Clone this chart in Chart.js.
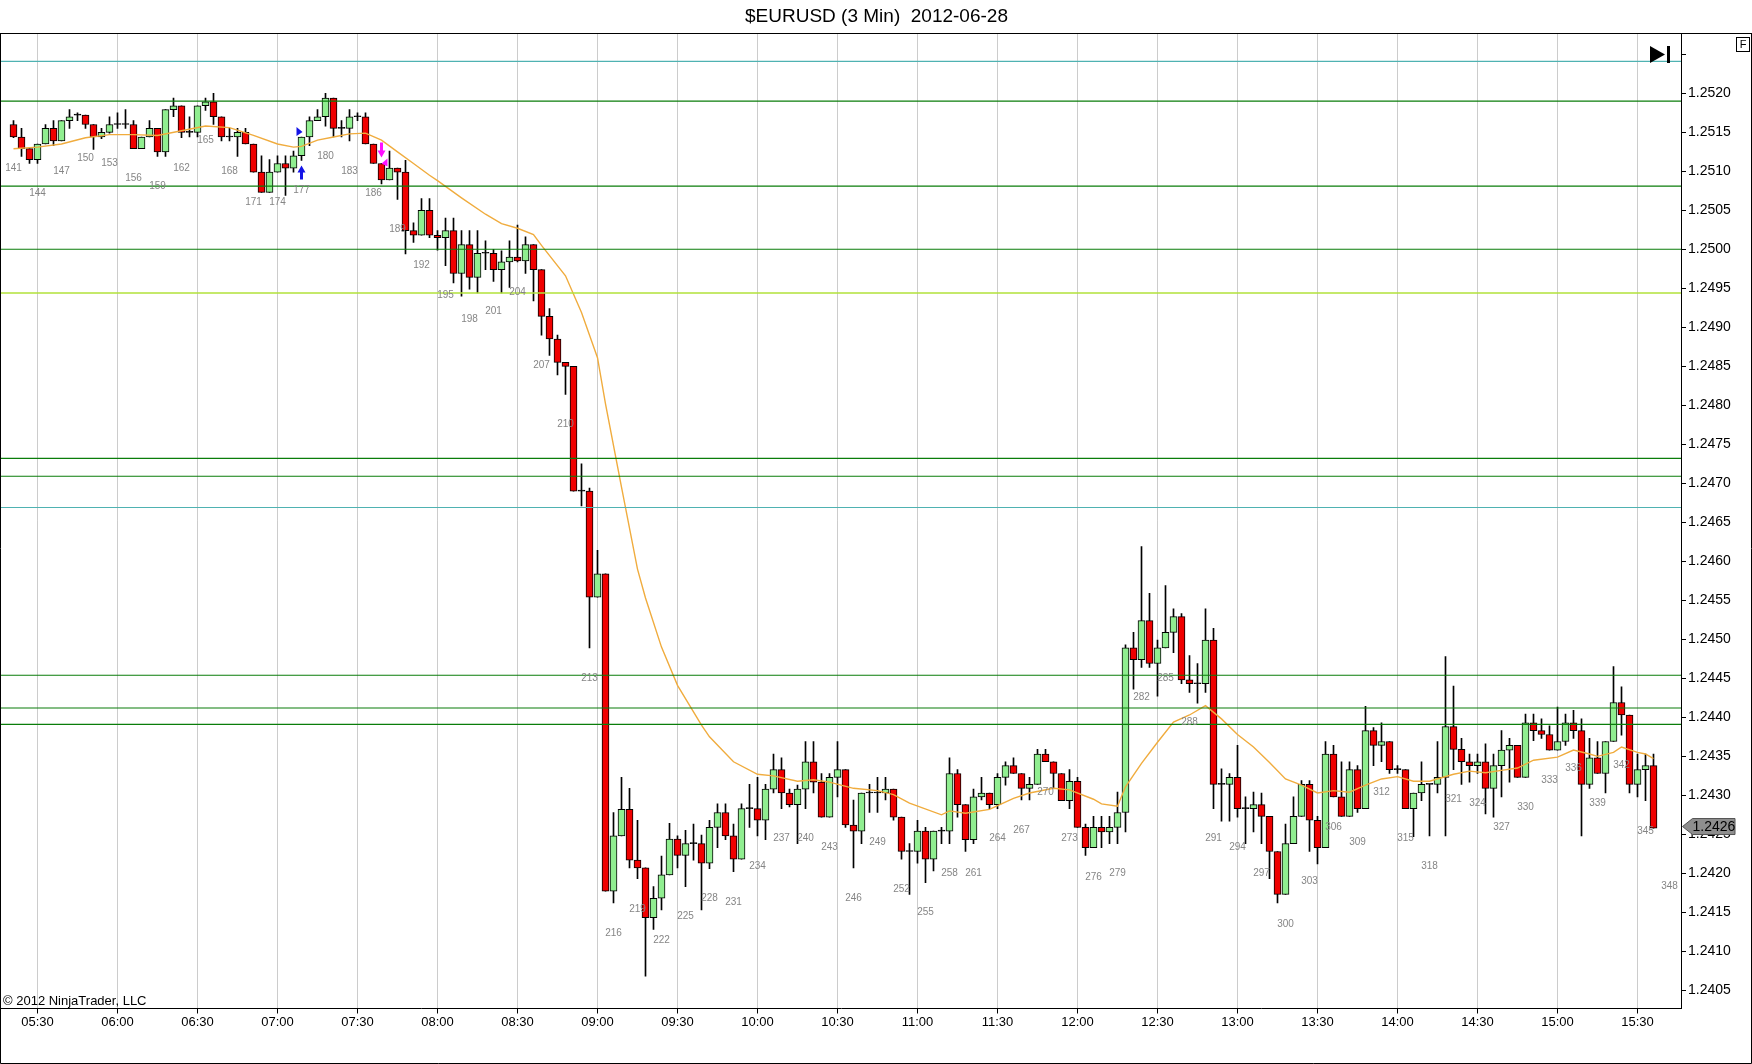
<!DOCTYPE html>
<html><head><meta charset="utf-8">
<script src="https://cdn.jsdelivr.net/npm/chart.js@4.4.0/dist/chart.umd.min.js"></script>
<style>html,body{margin:0;padding:0;background:#fff;}canvas{display:block}</style>
</head><body>
<canvas id="c" width="1752" height="1064"></canvas>
<script>
const FONT = "Arial, 'Liberation Sans', sans-serif";
const firstBar = 141;
const opens = [
1.25160,1.25144,1.25129,1.25115,1.25135,1.25155,1.25139,1.25165,1.25172,1.25172,
1.25160,1.25144,1.25150,1.25160,1.25160,1.25160,1.25129,1.25144,1.25155,1.25125,
1.25179,1.25184,1.25150,1.25150,1.25184,1.25189,1.25170,1.25144,1.25144,1.25150,
1.25135,1.25099,1.25073,1.25099,1.25110,1.25104,1.25120,1.25144,1.25165,1.25170,
1.25194,1.25155,1.25155,1.25170,1.25170,1.25135,1.25110,1.25089,1.25104,1.25099,
1.25024,1.25018,1.25050,1.25018,1.25015,1.25024,1.24969,1.25006,1.24964,1.24995,
1.24995,1.24974,1.24984,1.24990,1.24985,1.25006,1.24974,1.24914,1.24885,1.24855,
1.24850,1.24690,1.24690,1.24554,1.24584,1.24177,1.24248,1.24282,1.24217,1.24207,
1.24143,1.24168,1.24198,1.24244,1.24223,1.24238,1.24238,1.24213,1.24259,1.24278,
1.24248,1.24218,1.24283,1.24283,1.24268,1.24308,1.24333,1.24303,1.24288,1.24308,
1.24343,1.24317,1.24272,1.24323,1.24333,1.24262,1.24254,1.24303,1.24303,1.24303,
1.24308,1.24272,1.24228,1.24228,1.24254,1.24218,1.24254,1.24254,1.24328,1.24288,
1.24243,1.24298,1.24303,1.24288,1.24323,1.24338,1.24328,1.24309,1.24314,1.24353,
1.24343,1.24328,1.24293,1.24318,1.24259,1.24233,1.24259,1.24253,1.24259,1.24278,
1.24489,1.24474,1.24524,1.24469,1.24489,1.24509,1.24529,1.24448,1.24443,1.24443,
1.24499,1.24314,1.24314,1.24323,1.24283,1.24283,1.24288,1.24273,1.24228,1.24173,
1.24238,1.24273,1.24314,1.24268,1.24233,1.24353,1.24298,1.24273,1.24333,1.24283,
1.24383,1.24364,1.24369,1.24333,1.24333,1.24283,1.24303,1.24314,1.24314,1.24323,
1.24388,1.24359,1.24343,1.24338,1.24343,1.24309,1.24338,1.24358,1.24364,1.24323,
1.24393,1.24383,1.24378,1.24358,1.24369,1.24393,1.24383,1.24314,1.24348,1.24328,
1.24369,1.24419,1.24403,1.24314,1.24333,1.24338];
const highs = [
1.25165,1.25155,1.25129,1.25135,1.25160,1.25165,1.25165,1.25179,1.25175,1.25172,
1.25160,1.25155,1.25170,1.25175,1.25179,1.25165,1.25144,1.25165,1.25155,1.25179,
1.25194,1.25184,1.25170,1.25184,1.25194,1.25200,1.25170,1.25155,1.25155,1.25155,
1.25135,1.25120,1.25115,1.25120,1.25120,1.25126,1.25144,1.25170,1.25179,1.25200,
1.25194,1.25165,1.25179,1.25175,1.25175,1.25135,1.25110,1.25126,1.25104,1.25114,
1.25034,1.25065,1.25065,1.25024,1.25040,1.25040,1.25024,1.25024,1.25024,1.25011,
1.25000,1.24998,1.25011,1.25031,1.25016,1.25006,1.24974,1.24924,1.24890,1.24855,
1.24850,1.24725,1.24694,1.24614,1.24584,1.24278,1.24323,1.24309,1.24268,1.24207,
1.24183,1.24222,1.24264,1.24248,1.24255,1.24263,1.24249,1.24268,1.24289,1.24289,
1.24263,1.24289,1.24314,1.24323,1.24314,1.24353,1.24348,1.24308,1.24313,1.24369,
1.24369,1.24328,1.24328,1.24369,1.24333,1.24294,1.24303,1.24314,1.24323,1.24323,
1.24308,1.24272,1.24238,1.24268,1.24259,1.24254,1.24259,1.24348,1.24333,1.24288,
1.24308,1.24323,1.24303,1.24328,1.24343,1.24348,1.24328,1.24323,1.24359,1.24359,
1.24343,1.24328,1.24333,1.24323,1.24263,1.24273,1.24273,1.24273,1.24304,1.24493,
1.24509,1.24619,1.24559,1.24499,1.24569,1.24539,1.24533,1.24479,1.24469,1.24539,
1.24514,1.24334,1.24328,1.24364,1.24298,1.24304,1.24303,1.24273,1.24228,1.24263,
1.24298,1.24319,1.24319,1.24273,1.24369,1.24364,1.24343,1.24343,1.24338,1.24414,
1.24387,1.24393,1.24369,1.24338,1.24333,1.24303,1.24343,1.24314,1.24369,1.24478,
1.24440,1.24373,1.24353,1.24353,1.24366,1.24353,1.24383,1.24373,1.24364,1.24404,
1.24404,1.24398,1.24389,1.24413,1.24404,1.24409,1.24398,1.24373,1.24369,1.24369,
1.24465,1.24439,1.24403,1.24353,1.24353,1.24353];
const lows = [
1.25143,1.25119,1.25110,1.25110,1.25135,1.25133,1.25139,1.25155,1.25165,1.25155,
1.25128,1.25142,1.25149,1.25155,1.25155,1.25129,1.25129,1.25144,1.25119,1.25119,
1.25170,1.25143,1.25144,1.25144,1.25178,1.25160,1.25139,1.25139,1.25119,1.25135,
1.25099,1.25073,1.25073,1.25099,1.25069,1.25099,1.25114,1.25133,1.25165,1.25158,
1.25144,1.25144,1.25139,1.25165,1.25135,1.25110,1.25084,1.25089,1.25064,1.24994,
1.25009,1.25018,1.25015,1.24999,1.24979,1.24957,1.24940,1.24949,1.24944,1.24974,
1.24959,1.24944,1.24951,1.24984,1.24969,1.24934,1.24890,1.24864,1.24839,1.24814,
1.24690,1.24671,1.24489,1.24554,1.24177,1.24162,1.24248,1.24207,1.24193,1.24068,
1.24128,1.24153,1.24198,1.24207,1.24183,1.24217,1.24153,1.24206,1.24233,1.24243,
1.24202,1.24218,1.24259,1.24248,1.24243,1.24303,1.24283,1.24285,1.24238,1.24283,
1.24303,1.24272,1.24272,1.24298,1.24259,1.24207,1.24238,1.24278,1.24278,1.24294,
1.24268,1.24218,1.24173,1.24213,1.24188,1.24203,1.24238,1.24238,1.24272,1.24228,
1.24238,1.24294,1.24283,1.24283,1.24313,1.24328,1.24294,1.24294,1.24314,1.24343,
1.24309,1.24293,1.24283,1.24259,1.24223,1.24233,1.24233,1.24238,1.24238,1.24253,
1.24436,1.24464,1.24464,1.24427,1.24489,1.24483,1.24443,1.24432,1.24418,1.24432,
1.24283,1.24267,1.24267,1.24272,1.24238,1.24253,1.24238,1.24193,1.24162,1.24173,
1.24238,1.24273,1.24228,1.24212,1.24233,1.24298,1.24273,1.24273,1.24278,1.24283,
1.24338,1.24343,1.24328,1.24328,1.24283,1.24247,1.24293,1.24248,1.24303,1.24248,
1.24333,1.24314,1.24317,1.24328,1.24276,1.24272,1.24298,1.24317,1.24323,1.24323,
1.24370,1.24373,1.24358,1.24358,1.24364,1.24373,1.24248,1.24309,1.24328,1.24303,
1.24369,1.24377,1.24303,1.24298,1.24293,1.24258];
const closes = [
1.25144,1.25129,1.25115,1.25135,1.25155,1.25139,1.25165,1.25170,1.25172,1.25160,
1.25144,1.25150,1.25160,1.25160,1.25160,1.25129,1.25144,1.25155,1.25125,1.25179,
1.25184,1.25150,1.25150,1.25184,1.25189,1.25170,1.25144,1.25144,1.25150,1.25135,
1.25099,1.25073,1.25099,1.25110,1.25104,1.25120,1.25144,1.25165,1.25170,1.25194,
1.25155,1.25155,1.25170,1.25170,1.25135,1.25110,1.25089,1.25104,1.25099,1.25024,
1.25018,1.25050,1.25018,1.25015,1.25024,1.24969,1.25006,1.24964,1.24995,1.24995,
1.24974,1.24984,1.24990,1.24985,1.25006,1.24974,1.24914,1.24885,1.24855,1.24850,
1.24690,1.24690,1.24554,1.24584,1.24177,1.24248,1.24282,1.24217,1.24207,1.24143,
1.24168,1.24198,1.24244,1.24223,1.24238,1.24238,1.24213,1.24259,1.24278,1.24248,
1.24218,1.24283,1.24283,1.24268,1.24308,1.24333,1.24303,1.24288,1.24308,1.24343,
1.24317,1.24272,1.24323,1.24333,1.24262,1.24254,1.24303,1.24303,1.24303,1.24308,
1.24272,1.24228,1.24228,1.24254,1.24218,1.24254,1.24254,1.24328,1.24288,1.24243,
1.24298,1.24303,1.24288,1.24323,1.24338,1.24328,1.24309,1.24314,1.24353,1.24343,
1.24328,1.24293,1.24318,1.24259,1.24233,1.24259,1.24253,1.24259,1.24278,1.24489,
1.24474,1.24524,1.24469,1.24489,1.24509,1.24529,1.24448,1.24443,1.24443,1.24499,
1.24314,1.24314,1.24323,1.24283,1.24283,1.24288,1.24273,1.24228,1.24173,1.24238,
1.24273,1.24314,1.24268,1.24233,1.24353,1.24298,1.24273,1.24333,1.24283,1.24383,
1.24364,1.24369,1.24333,1.24333,1.24283,1.24303,1.24314,1.24314,1.24323,1.24388,
1.24359,1.24343,1.24338,1.24343,1.24309,1.24338,1.24358,1.24364,1.24323,1.24393,
1.24383,1.24378,1.24358,1.24369,1.24393,1.24383,1.24314,1.24348,1.24328,1.24369,
1.24419,1.24403,1.24314,1.24333,1.24338,1.24258];

const timeLabels = ['05:30','06:00','06:30','07:00','07:30','08:00','08:30','09:00','09:30','10:00','10:30','11:00','11:30','12:00','12:30','13:00','13:30','14:00','14:30','15:00','15:30'];
const timeTickBars = [144,154,164,174,184,194,204,214,224,234,244,254,264,274,284,294,304,314,324,334,344];
const priceTicks = [1.2405,1.2410,1.2415,1.2420,1.2425,1.2430,1.2435,1.2440,1.2445,1.2450,1.2455,1.2460,1.2465,1.2470,1.2475,1.2480,1.2485,1.2490,1.2495,1.2500,1.2505,1.2510,1.2515,1.2520,1.2525];

const smaBars = [141,144,147,150,153,156,159,162,165,168,171,174,176,177,179,181,183,185,187,189,191,193,194,197,200,202,204,206,207,210,212,214,215,217,219,220,222,224,227,228,231,234,236,239,241,243,246,249,251,253,257,258,260,263,266,268,271,273,276,277,279,280,282,284,286,288,290,292,294,296,298,300,302,304,306,308,310,312,314,316,318,321,323,325,327,329,331,334,336,338,339,341,342,344,345,346];
const smaValues = [1.25129,1.25131,1.25135,1.25143,1.25147,1.25147,1.25146,1.25152,1.25158,1.25156,1.25146,1.25135,1.25131,1.25132,1.25140,1.25144,1.25148,1.25149,1.25140,1.25125,1.25110,1.25095,1.25088,1.25066,1.25045,1.25033,1.25027,1.25019,1.25005,1.24966,1.24919,1.24861,1.24802,1.24695,1.24590,1.24553,1.24490,1.24441,1.24390,1.24375,1.24343,1.24327,1.24325,1.24318,1.24320,1.24317,1.24309,1.24306,1.24301,1.24290,1.24275,1.24280,1.24277,1.24282,1.24296,1.24303,1.24309,1.24307,1.24295,1.24289,1.24286,1.24311,1.24341,1.24368,1.24394,1.24403,1.24415,1.24398,1.24378,1.24362,1.24342,1.24321,1.24313,1.24303,1.24306,1.24304,1.24313,1.24321,1.24324,1.24318,1.24318,1.24327,1.24331,1.24329,1.24332,1.24335,1.24345,1.24349,1.24358,1.24353,1.24350,1.24355,1.24362,1.24355,1.24353,1.24347];

const levelValues = [1.25241,1.25190,1.25081,1.25000,1.24944,1.24732,1.24709,1.24669,1.24454,1.24412,1.24391];
const levelKinds  = ['teal','green','green','green','lime','green','green','teal','green','green','green'];

const labelEvery = 3;
const extraLabelBars = [348];
const extraLabelLows = [1.24222];
const buySignalBars = [177];
const sellSignalBars = [187];

const X_MIN = 139.4375, X_MAX = 349.4375;
const Y_MIN = 1.240267, Y_MAX = 1.252763;

const levelColorMap = {teal:'#4fb2b2', green:'#0a7d0a', lime:'#b2e23a'};
const bars = opens.map((_, i) => firstBar + i);
const bodyColors = bars.map((b, i) => closes[i] > opens[i] ? '#90ee90' : (closes[i] < opens[i] ? '#f00000' : '#000000'));

const datasets = [];
levelValues.forEach((v, k) => {
  datasets.push({type:'line', data:[{x:X_MIN, y:v},{x:X_MAX, y:v}], borderColor:levelColorMap[levelKinds[k]],
    borderWidth: levelKinds[k]==='lime' ? 1.6 : 1.1, pointRadius:0, order:1, tension:0});
});
datasets.push({type:'line', data: smaBars.map((b,i)=>({x:b, y:smaValues[i]})), borderColor:'rgb(240,172,62)',
  borderWidth:1.4, pointRadius:0, order:2, tension:0});
datasets.push({type:'bar', data: bars.map((b,i)=>({x:b, y:[opens[i], closes[i]]})), backgroundColor: bodyColors,
  borderColor:'#000', borderWidth:1, borderSkipped:false, barThickness:7, grouped:false, minBarLength:1, order:3});
datasets.push({type:'bar', data: bars.map((b,i)=>({x:b, y:[lows[i], highs[i]]})), backgroundColor:'#000',
  borderWidth:0, barThickness:1, grouped:false, order:4});

const overlay = {
  id:'overlay',
  afterDraw(chart){
    const {ctx, chartArea:a} = chart;
    const xs = chart.scales.x, ys = chart.scales.y;
    ctx.save();
    // frame
    ctx.strokeStyle = '#000'; ctx.lineWidth = 1;
    ctx.beginPath();
    ctx.moveTo(0, 33.5); ctx.lineTo(1752, 33.5);
    ctx.moveTo(0.5, 33.5); ctx.lineTo(0.5, 1063.5); ctx.lineTo(1751.5, 1063.5); ctx.lineTo(1751.5, 33.5);
    ctx.stroke();
    // bar number labels
    ctx.fillStyle = '#858585'; ctx.font = '10px ' + FONT; ctx.textAlign = 'center'; ctx.textBaseline = 'middle';
    bars.forEach((b, i) => {
      if (b % labelEvery === 0) ctx.fillText(String(b), xs.getPixelForValue(b), ys.getPixelForValue(lows[i]) + 30);
    });
    extraLabelBars.forEach((b, k) => ctx.fillText(String(b), xs.getPixelForValue(b), ys.getPixelForValue(extraLabelLows[k]) + 30));
    // signals
    buySignalBars.forEach(b => {
      const i = b - firstBar, cx = xs.getPixelForValue(b);
      const t = ys.getPixelForValue(lows[i]) + 5;
      ctx.fillStyle = '#1414e6';
      ctx.beginPath();
      ctx.moveTo(cx, t); ctx.lineTo(cx+4, t+7); ctx.lineTo(cx+1.5, t+7); ctx.lineTo(cx+1.5, t+14);
      ctx.lineTo(cx-1.5, t+14); ctx.lineTo(cx-1.5, t+7); ctx.lineTo(cx-4, t+7); ctx.closePath(); ctx.fill();
      const h = ys.getPixelForValue(highs[i]);
      ctx.beginPath(); ctx.moveTo(cx-5, h-10); ctx.lineTo(cx+1, h-5); ctx.lineTo(cx-5, h-1); ctx.closePath(); ctx.fill();
    });
    sellSignalBars.forEach(b => {
      const i = b - firstBar, cx = xs.getPixelForValue(b);
      const t = ys.getPixelForValue(highs[i]) - 6;
      ctx.fillStyle = '#ff10ff';
      ctx.beginPath();
      ctx.moveTo(cx, t); ctx.lineTo(cx+4, t-7); ctx.lineTo(cx+1.5, t-7); ctx.lineTo(cx+1.5, t-15);
      ctx.lineTo(cx-1.5, t-15); ctx.lineTo(cx-1.5, t-7); ctx.lineTo(cx-4, t-7); ctx.closePath(); ctx.fill();
      const h = ys.getPixelForValue(highs[i]);
      ctx.beginPath(); ctx.moveTo(cx, h); ctx.lineTo(cx+6, h-5); ctx.lineTo(cx+6, h+3); ctx.closePath(); ctx.fill();
    });
    // last price tag
    const last = Number(closes[closes.length-1].toFixed(4));
    const py = ys.getPixelForValue(last);
    const x0 = a.right + 1.5;
    ctx.beginPath();
    ctx.moveTo(x0, py); ctx.lineTo(x0+10, py-8); ctx.lineTo(1735, py-8); ctx.lineTo(1735, py+8); ctx.lineTo(x0+10, py+8); ctx.closePath();
    ctx.fillStyle = '#8e8e8e'; ctx.fill(); ctx.strokeStyle = '#555'; ctx.stroke();
    ctx.fillStyle = '#000'; ctx.font = '14px ' + FONT; ctx.textAlign = 'left'; ctx.textBaseline = 'middle';
    ctx.fillText(last.toFixed(4), x0 + 10, py + 0.5);
    // go-to-end icon
    ctx.fillStyle = '#000';
    ctx.beginPath(); ctx.moveTo(1650, 46); ctx.lineTo(1665, 54.5); ctx.lineTo(1650, 63); ctx.closePath(); ctx.fill();
    ctx.fillRect(1667, 46, 3, 17);
    // F box
    ctx.strokeStyle = '#000'; ctx.strokeRect(1736.5, 37.5, 13, 14);
    ctx.font = '11px ' + FONT; ctx.textAlign = 'center'; ctx.fillText('F', 1743, 45);
    // copyright
    ctx.font = '13px ' + FONT; ctx.textAlign = 'left'; ctx.textBaseline = 'alphabetic';
    ctx.fillText('\u00A9 2012 NinjaTrader, LLC', 3, 1005);
    ctx.restore();
  }
};

new Chart(document.getElementById('c'), {
  type:'bar',
  data:{datasets},
  options:{
    responsive:false, animation:false, devicePixelRatio:1,
    layout:{padding:{left:1, right:0, top:0, bottom:0}},
    plugins:{
      legend:{display:false}, tooltip:{enabled:false},
      title:{display:true, text:'$EURUSD (3 Min)  2012-06-28', color:'#000',
        font:{family:FONT, size:19, weight:'normal'}, padding:{top:5, bottom:6}}
    },
    scales:{
      x:{type:'linear', min:X_MIN, max:X_MAX, offset:false,
        grid:{offset:false, color:'#cccccc', lineWidth:1, tickColor:'#000', tickLength:5, drawOnChartArea:true},
        border:{display:true, color:'#000', width:1},
        ticks:{autoSkip:false, maxRotation:0, minRotation:0, padding:1, color:'#000', font:{family:FONT, size:13},
          callback:(v)=>{const k = timeTickBars.indexOf(v); return k >= 0 ? timeLabels[k] : '';}},
        afterBuildTicks:(s)=>{ s.ticks = timeTickBars.map(v=>({value:v})); },
        afterFit:(s)=>{ s.height = 55.5; }
      },
      y:{type:'linear', position:'right', min:Y_MIN, max:Y_MAX,
        grid:{drawOnChartArea:false, color:'#000', tickColor:'#000', tickLength:5},
        border:{display:true, color:'#000', width:1},
        ticks:{padding:2, color:'#000', font:{family:FONT, size:14},
          callback:(v)=> v > 1.2522 ? '' : Number(v).toFixed(4)},
        afterBuildTicks:(s)=>{ s.ticks = priceTicks.map(v=>({value:v})); },
        afterFit:(s)=>{ s.width = 71; }
      }
    }
  },
  plugins:[overlay]
});
</script>
</body></html>
